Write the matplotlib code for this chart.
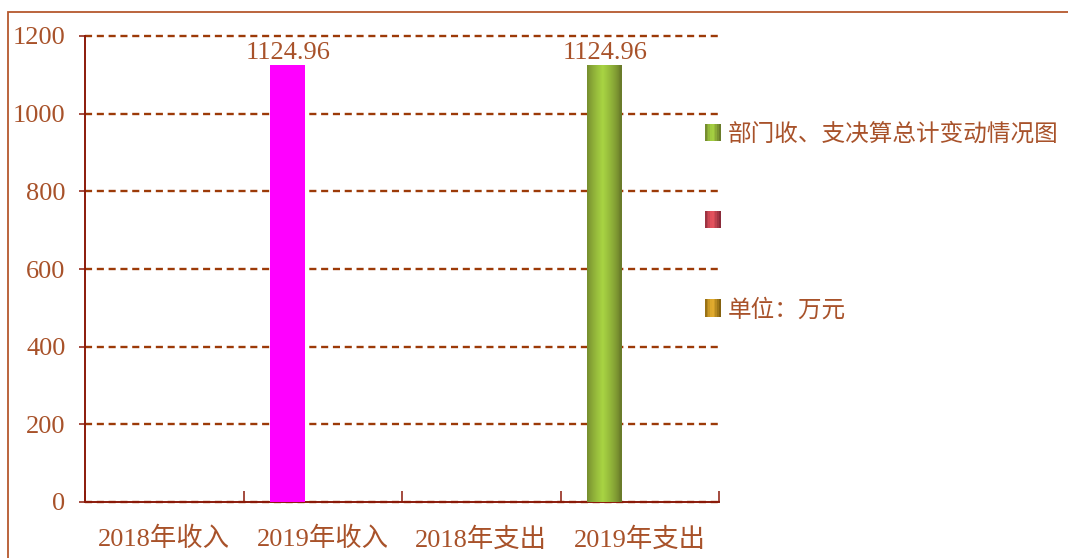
import numpy as np
import matplotlib
matplotlib.use("Agg")
import matplotlib.pyplot as plt
from matplotlib.patches import Rectangle
from matplotlib.legend_handler import HandlerBase

plt.rcParams['font.family'] = ['Liberation Serif', 'Noto Sans CJK SC', 'DejaVu Sans']

# ---------------- data ----------------
categories = ['2018年收入', '2019年收入', '2018年支出', '2019年支出']
series_names = ['部门收、支决算总计变动情况图', '', '单位：万元']
series1 = [np.nan, 1124.96, np.nan, 1124.96]
series2 = [np.nan, np.nan, np.nan, np.nan]
series3 = [np.nan, np.nan, np.nan, np.nan]
yticks = [0, 200, 400, 600, 800, 1000, 1200]

# ---------------- style ----------------
TEXT = '#A8522A'
AXIS = '#8B1A0A'
GRID = '#9C3A08'
grad_pairs = [('#6A7C2A', '#A8D443'),   # green
              ('#8A2B3A', '#EA5560'),   # red
              ('#85620F', '#E8B030')]   # gold
point_override = {(0, 1): '#FF00FF'}


def gradient(dark, light, n=64):
    d = np.array(matplotlib.colors.to_rgb(dark))
    l = np.array(matplotlib.colors.to_rgb(light))
    x = np.linspace(0, 1, n)
    t = np.clip(1 - np.abs(x - 0.45) / 0.5, 0, 1) ** 0.7
    return d[None, :] * (1 - t[:, None]) + l[None, :] * t[:, None]


class GradHandler(HandlerBase):
    def __init__(self, dark, light):
        super().__init__()
        self.cols = gradient(dark, light, 9)

    def create_artists(self, legend, orig_handle, xdescent, ydescent,
                       width, height, fontsize, trans):
        arts = []
        n = len(self.cols)
        w = width / n
        for i, c in enumerate(self.cols):
            r = Rectangle((-xdescent + i * w, -ydescent), w * 1.05, height,
                          facecolor=c, edgecolor='none', transform=trans)
            arts.append(r)
        return arts


fig = plt.figure(figsize=(10.68, 5.58), dpi=100)
ax = fig.add_axes([85 / 1068, 1 - 502 / 558, (719 - 85) / 1068, (502 - 36) / 558])

# figure border (top & left visible)
fig.patches.append(Rectangle((8 / 1068, -0.1), 1.2, 1 - 12 / 558 + 0.1,
                             transform=fig.transFigure, fill=False,
                             edgecolor='#B5582D', linewidth=1.3))

x = np.arange(len(categories))
width = 0.22
all_series = [series1, series2, series3]
offsets = [-width, 0, width]
for si, (vals, off) in enumerate(zip(all_series, offsets)):
    bars = ax.bar(x + off, vals, width, color='none', zorder=3)
    grad = gradient(*grad_pairs[si])
    for pi, rect in enumerate(bars):
        if np.isnan(vals[pi]):
            continue
        if (si, pi) in point_override:
            rect.set_facecolor(point_override[(si, pi)])
            continue
        x0, y0 = rect.get_x(), rect.get_y()
        im = ax.imshow(grad[None, :, :], extent=[x0, x0 + rect.get_width(), y0, y0 + rect.get_height()],
                       aspect='auto', interpolation='bilinear', zorder=3)
        im.set_clip_path(rect)
    ax.bar_label(bars, labels=['' if np.isnan(v) else f'{v:.2f}' for v in vals],
                 padding=1, color=TEXT, fontsize=19)

ax.set_xlim(-0.5, len(categories) - 0.5)
ax.set_ylim(0, 1200)
ax.set_yticks(yticks)
ax.set_yticklabels([str(v) for v in yticks])
ax.set_xticks(x)
ax.set_xticklabels(categories)
ax.set_xticks(np.arange(len(categories) + 1) - 0.5, minor=True)

ax.tick_params(axis='x', which='major', length=0, pad=18, labelsize=19, labelcolor=TEXT)
ax.tick_params(axis='x', which='minor', direction='in', length=8, width=1.1, color=AXIS)
ax.tick_params(axis='y', which='major', direction='out', length=4, width=1.1, color=AXIS,
               pad=10, labelsize=19, labelcolor=TEXT)

for s in ['top', 'right']:
    ax.spines[s].set_visible(False)
for s in ['left', 'bottom']:
    ax.spines[s].set_color(AXIS)
    ax.spines[s].set_linewidth(1.4)

ax.set_axisbelow(True)
ax.yaxis.grid(True, linestyle=(0, (3.0, 2)), color=GRID, linewidth=1.7)
for gl in ax.get_ygridlines():
    gl.set_clip_on(False)
ax.set_facecolor('none')

handles = [Rectangle((0, 0), 1, 1) for _ in series_names]
hmap = {h: GradHandler(*grad_pairs[i]) for i, h in enumerate(handles)}
leg = fig.legend(handles, series_names, handler_map=hmap,
                 loc='upper left', bbox_to_anchor=(705 / 1068, 1 - 123 / 558),
                 frameon=False, fontsize=17, labelspacing=2.78,
                 handlelength=0.66, handleheight=0.75, handletextpad=0.3,
                 borderpad=0, borderaxespad=0)
for t in leg.get_texts():
    t.set_color(TEXT)

fig.savefig('out.png', dpi=100)
